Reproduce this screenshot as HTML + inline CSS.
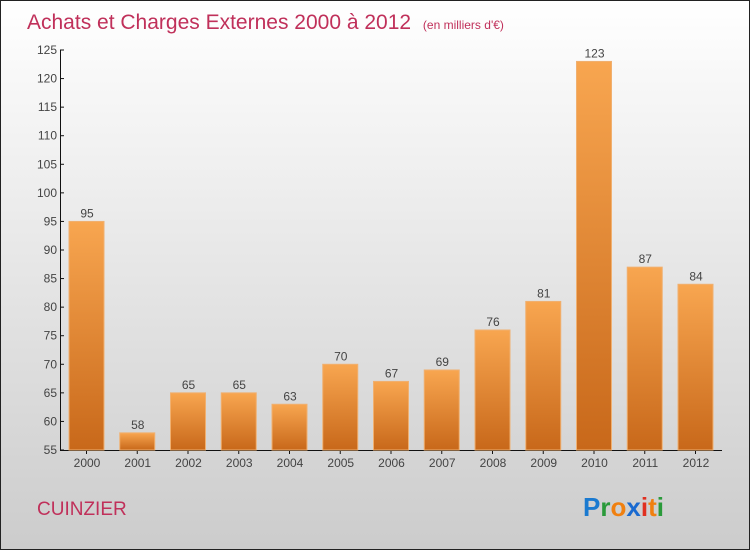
<!DOCTYPE html>
<html><head><meta charset="utf-8"><style>
body{margin:0}
#c{width:748px;height:548px;border:1px solid #222;background:linear-gradient(#fff,#ccc);position:relative;font-family:"Liberation Sans",sans-serif;overflow:hidden}
</style></head><body>
<div id="c">
<svg id="s" width="748" height="548" style="position:absolute;left:0;top:0">
<defs><linearGradient id="g" x1="0" y1="0" x2="0" y2="1"><stop offset="0" stop-color="#f8a650"/><stop offset="1" stop-color="#c8681a"/></linearGradient></defs>
<text x="26" y="28" font-size="21" fill="#c0305a">Achats et Charges Externes 2000 à 2012 <tspan font-size="12" dx="6">(en milliers d'€)</tspan></text>
<text x="36" y="514" font-size="19" fill="#c0305a">CUINZIER</text>
<g font-size="26" font-weight="bold" font-family="'Liberation Sans',sans-serif">
<text x="582" y="515"><tspan fill="#1a7ad0">P</tspan><tspan fill="#2a9a3a">r</tspan><tspan fill="#f08010">o</tspan><tspan fill="#1a6ad0">x</tspan><tspan fill="#e03020">i</tspan><tspan fill="#f08010">t</tspan><tspan fill="#2a9a3a">i</tspan></text></g>
<g id="ax"></g><g id="bars"></g>
</svg>
</div>
<script>
const years=["2000","2001","2002","2003","2004","2005","2006","2007","2008","2009","2010","2011","2012"];
const values=[95,58,65,65,63,70,67,69,76,81,123,87,84];
const ticks=[55,60,65,70,75,80,85,90,95,100,105,110,115,120,125];
const NS="http://www.w3.org/2000/svg";
const y0=449,y1=49,vmin=55,vmax=125;
const y=v=>y0-(v-vmin)/(vmax-vmin)*(y0-y1);
const x=i=>85+i*50.75;
const ax=document.getElementById('ax'),bars=document.getElementById('bars');
function mk(t,a,p){const e=document.createElementNS(NS,t);for(const k in a)e.setAttribute(k,a[k]);p.appendChild(e);return e;}
let l=mk('line',{x1:59.5,x2:59.5,y1:y1,y2:y0,stroke:'#111'},ax);


l=mk('line',{x1:59,x2:721,y1:y0+0.5,y2:y0+0.5,stroke:'#111'},ax);


ticks.forEach(t=>{
 mk('line',{x1:59,x2:63,y1:y(t),y2:y(t),stroke:'#111'},ax);
 const tx=mk('text',{x:56,y:y(t)+4,'text-anchor':'end','font-size':12,fill:'#444'},ax);tx.textContent=t;
 
 
});
years.forEach((yr,i)=>{
 const v=values[i];
 const r=mk('rect',{x:x(i)-17,y:y(v),width:35,height:y0-y(v),fill:'url(#g)',stroke:'#f0b070','stroke-width':1},bars);
 
 
 mk('line',{x1:x(i)+0.5,x2:x(i)+0.5,y1:y0,y2:y0+4,stroke:'#111'},ax);
 const t=mk('text',{x:x(i)+1,y:466,'text-anchor':'middle','font-size':12,fill:'#444'},ax);t.textContent=yr;
 
 
 const vl=mk('text',{x:x(i)+1,y:y(v)-4,'text-anchor':'middle','font-size':12,fill:'#444'},bars);vl.textContent=v;
 
 
});
</script>
</body></html>
